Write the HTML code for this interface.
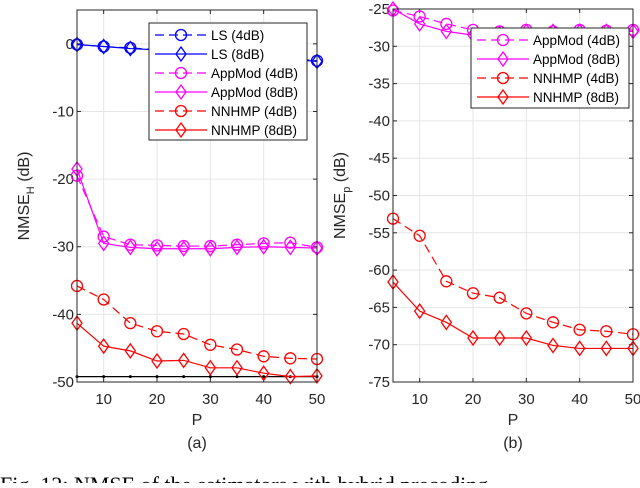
<!DOCTYPE html>
<html><head><meta charset="utf-8"><style>
body{margin:0;background:#fff;width:640px;height:483px;overflow:hidden}
svg{font-family:"Liberation Sans",sans-serif}
</style></head><body>
<svg id="s" width="640" height="483"></svg>
<script>
const P=[5,10,15,20,25,30,35,40,45,50];
const lsA4=[-0.1,-0.4,-0.6,-0.9,-1.1,-1.3,-1.6,-1.9,-2.2,-2.5];
const lsA8=[-0.1,-0.4,-0.7,-0.9,-1.2,-1.4,-1.7,-2.0,-2.3,-2.6];
const appA4=[-19.5,-28.5,-29.7,-29.8,-29.9,-29.9,-29.7,-29.5,-29.4,-30.1];
const appA8=[-18.5,-29.5,-30.1,-30.3,-30.3,-30.3,-30.1,-30,-30.1,-30.2];
const nnA4=[-35.8,-37.8,-41.3,-42.5,-42.9,-44.5,-45.2,-46.2,-46.5,-46.6];
const nnA8=[-41.3,-44.7,-45.4,-46.9,-46.8,-47.9,-47.9,-48.7,-49.2,-49.1];
const bound=[-49.2,-49.2,-49.2,-49.2,-49.2,-49.2,-49.2,-49.2,-49.2,-49.2];
const appB4=[-25.2,-26,-27,-27.8,-28,-27.8,-28,-27.8,-27.9,-27.8];
const appB8=[-25,-27,-28,-28.5,-28.3,-28,-28,-28,-28,-28];
const nnB4=[-53.1,-55.4,-61.5,-63.1,-63.7,-65.8,-67,-68,-68.2,-68.6];
const nnB8=[-61.6,-65.5,-67,-69.1,-69.1,-69.1,-70.1,-70.5,-70.5,-70.5];
const xTicks=[10,20,30,40,50];
const yTicksA=[0,-10,-20,-30,-40,-50];
const yTicksB=[-25,-30,-35,-40,-45,-50,-55,-60,-65,-70,-75];
const NS="http://www.w3.org/2000/svg";
const s=document.getElementById('s');
function el(t,a,p){const e=document.createElementNS(NS,t);for(const k in a)e.setAttribute(k,a[k]);(p||s).appendChild(e);return e;}
function txt(x,y,str,a,p){const e=el('text',Object.assign({x:x,y:y,'font-size':15,fill:'#262626'},a||{}),p);e.textContent=str;return e;}
function mark(g,type,x,y,c){
  if(type==='o'){const m=el('circle',{cx:x,cy:y,r:5.5,fill:'none',stroke:c,'stroke-width':1.3},g);}
  else if(type==='d'){const m=el('path',{d:`M${x} ${y-7}L${x+5} ${y}L${x} ${y+7}L${x-5} ${y}Z`,fill:'none',stroke:c,'stroke-width':1.3},g);}
  else {const m=el('circle',{cx:x,cy:y,r:1.5,fill:c},g);}
}
function axes(o){
  const X=v=>o.x0+(v-5)/45*(o.x1-o.x0), Y=v=>o.y1+(v-o.ymin)/(o.ymax-o.ymin)*(o.y0-o.y1);
  const g=el('g',{});  
  el('rect',{x:o.x0,y:o.y0,width:o.x1-o.x0,height:o.y1-o.y0,fill:'#fff'},g);
  xTicks.forEach(t=>{const x=X(t);el('line',{x1:x,x2:x,y1:o.y0,y2:o.y1,stroke:'#e6e6e6'},g);
    el('line',{x1:x,x2:x,y1:o.y1,y2:o.y1-4,stroke:'#262626'},g);el('line',{x1:x,x2:x,y1:o.y0,y2:o.y0+4,stroke:'#262626'},g);
    const l=txt(x,o.y1+22,String(t),{'text-anchor':'middle'},g);});
  o.yt.forEach(t=>{const y=Y(t);el('line',{x1:o.x0,x2:o.x1,y1:y,y2:y,stroke:'#e6e6e6'},g);
    el('line',{x1:o.x0,x2:o.x0+4,y1:y,y2:y,stroke:'#262626'},g);el('line',{x1:o.x1,x2:o.x1-4,y1:y,y2:y,stroke:'#262626'},g);
    const l=txt(o.x0-3,y+5,String(t),{'text-anchor':'end'},g);});
  o.series.forEach(sr=>{
    const sg=el('g',{},g);
    el('polyline',{points:P.map((p,i)=>X(p)+','+Y(sr.v[i])).join(' '),fill:'none',stroke:sr.c,'stroke-width':1.2,'stroke-dasharray':sr.dash?'9,5':'none'},sg);
    P.forEach((p,i)=>mark(sg,sr.m,X(p),Y(sr.v[i]),sr.c));
  });
  el('rect',{x:o.x0,y:o.y0,width:o.x1-o.x0,height:o.y1-o.y0,fill:'none',stroke:'#262626','stroke-width':1},g);
  const L=o.leg,lg=el('g',{},g);
  el('rect',{x:L.x,y:L.y,width:L.w,height:L.h,fill:'#fff',stroke:'#262626'},lg);
  o.series.filter(s=>s.label).forEach((sr,i)=>{const y=L.y+12+i*L.dy;
    const eg=el('g',{},lg);
    el('line',{x1:L.x+6,x2:L.x+58,y1:y,y2:y,stroke:sr.c,'stroke-width':1.2,'stroke-dasharray':sr.dash?'9,5':'none'},eg);
    mark(eg,sr.m,L.x+32,y,sr.c);txt(L.x+62,y+5,sr.label,{'font-size':13.5,fill:'#000'},eg);});
  const xl=txt((o.x0+o.x1)/2,o.y1+43,'P',{'text-anchor':'middle','font-size':16},g);
  const yl=el('text',{x:0,y:0,'font-size':16,fill:'#262626','text-anchor':'middle',transform:`translate(${o.x0-48},${(o.y0+o.y1)/2}) rotate(-90)`},g);
  
  yl.innerHTML='NMSE<tspan font-size="11" dy="5">'+o.sub+'</tspan><tspan dy="-5"> (dB)</tspan>';
  const cap=txt((o.x0+o.x1)/2,o.y1+66,o.cap,{'text-anchor':'middle','font-size':16,fill:'#262626'},g);
  
}
axes({name:'chart-a',x0:77,x1:317,y0:10,y1:382,ymin:-50,ymax:5,yt:yTicksA,sub:'H',cap:'(a)',
 leg:{x:149,y:23,w:158,h:117,dy:19},
 series:[{name:'bound-line',v:bound,c:'#000',m:'.',dash:false},
  {name:'ls-4db',v:lsA4,c:'#0000ff',m:'o',dash:true,label:'LS (4dB)'},
  {name:'ls-8db',v:lsA8,c:'#0000ff',m:'d',dash:false,label:'LS (8dB)'},
  {name:'appmod-4db',v:appA4,c:'#ff00ff',m:'o',dash:true,label:'AppMod (4dB)'},
  {name:'appmod-8db',v:appA8,c:'#ff00ff',m:'d',dash:false,label:'AppMod (8dB)'},
  {name:'nnhmp-4db',v:nnA4,c:'#ff0000',m:'o',dash:true,label:'NNHMP (4dB)'},
  {name:'nnhmp-8db',v:nnA8,c:'#ff0000',m:'d',dash:false,label:'NNHMP (8dB)'}]});
axes({name:'chart-b',x0:393,x1:633,y0:9,y1:382,ymin:-75,ymax:-25,yt:yTicksB,sub:'p',cap:'(b)',
 leg:{x:471,y:28,w:158,h:80,dy:19},
 series:[{name:'appmod-4db',v:appB4,c:'#ff00ff',m:'o',dash:true,label:'AppMod (4dB)'},
  {name:'appmod-8db',v:appB8,c:'#ff00ff',m:'d',dash:false,label:'AppMod (8dB)'},
  {name:'nnhmp-4db',v:nnB4,c:'#ff0000',m:'o',dash:true,label:'NNHMP (4dB)'},
  {name:'nnhmp-8db',v:nnB8,c:'#ff0000',m:'d',dash:false,label:'NNHMP (8dB)'}]});
const fc=txt(0,492,'Fig. 12: NMSE of the estimators with hybrid precoding',{'font-family':'Liberation Serif, serif','font-size':22,fill:'#000'});

</script>
</body></html>
